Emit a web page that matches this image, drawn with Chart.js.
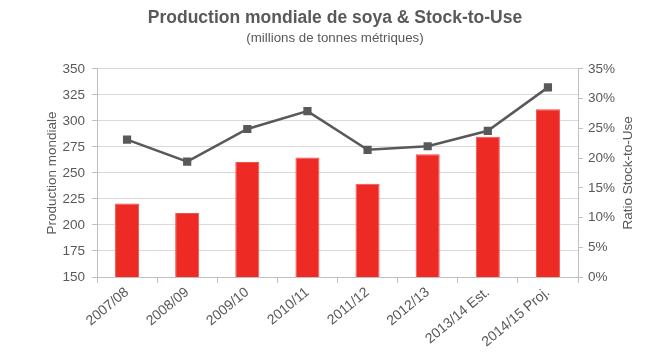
<!DOCTYPE html>
<html>
<head>
<meta charset="utf-8">
<script src="https://cdn.jsdelivr.net/npm/chart.js@4.4.0/dist/chart.umd.min.js"></script>
<style>
  html, body { margin: 0; padding: 0; background: #ffffff; }
  #wrap { width: 670px; height: 364px; position: relative; }
</style>
</head>
<body>
<div id="wrap"><canvas id="c" width="670" height="364"></canvas></div>
<script>
const categories = ["2007/08", "2008/09", "2009/10", "2010/11", "2011/12", "2012/13", "2013/14 Est.", "2014/15 Proj."];
const production = [220.7, 211.6, 260.6, 265.0, 239.6, 267.9, 284.8, 311.2];
const stockToUse = [23.1, 19.4, 24.9, 27.9, 21.4, 22.0, 24.6, 31.9];
const leftTicks = [150, 175, 200, 225, 250, 275, 300, 325, 350];
const rightTicks = [0, 5, 10, 15, 20, 25, 30, 35];

const TEXT = '#595959';
const FONT = '"Liberation Sans", Arial, sans-serif';

const rightTitlePlugin = {
  id: 'rightTitle',
  afterDraw(chart) {
    const ctx = chart.ctx;
    const area = chart.chartArea;
    ctx.save();
    ctx.translate(628, (area.top + area.bottom) / 2);
    ctx.rotate(-Math.PI / 2);
    ctx.fillStyle = TEXT;
    ctx.font = '13.5px ' + FONT;
    ctx.textAlign = 'center';
    ctx.textBaseline = 'middle';
    ctx.fillText('Ratio Stock-to-Use', 0, 0);
    ctx.restore();
  }
};

new Chart(document.getElementById('c'), {
  data: {
    labels: categories,
    datasets: [
      {
        type: 'line',
        label: 'Stock-to-Use',
        data: stockToUse,
        yAxisID: 'y1',
        borderColor: '#595959',
        borderWidth: 2.5,
        pointStyle: 'rect',
        pointRadius: 5.8,
        pointBackgroundColor: '#595959',
        pointBorderColor: '#595959',
        pointBorderWidth: 0,
        tension: 0,
        order: 1
      },
      {
        type: 'bar',
        label: 'Production mondiale',
        data: production,
        yAxisID: 'y',
        backgroundColor: '#EE2A24',
        borderColor: '#F4514B',
        borderWidth: 1,
        barPercentage: 0.4,
        categoryPercentage: 1.0,
        order: 2
      }
    ]
  },
  options: {
    responsive: false,
    animation: false,
    devicePixelRatio: 1,
    layout: { padding: { left: 0, right: 0, top: 0, bottom: 0 } },
    plugins: {
      legend: { display: false },
      tooltip: { enabled: false },
      title: {
        display: true,
        text: 'Production mondiale de soya & Stock-to-Use',
        color: TEXT,
        font: { family: FONT, size: 17.5, weight: 'bold', lineHeight: 1.2 },
        padding: { top: 8, bottom: 0 }
      },
      subtitle: {
        display: true,
        text: '(millions de tonnes métriques)',
        color: TEXT,
        font: { family: FONT, size: 13.3, lineHeight: 1.2 },
        padding: { top: 1, bottom: 23 }
      }
    },
    scales: {
      x: {
        offset: true,
        grid: { display: true, drawOnChartArea: false, offset: true, color: '#bfbfbf', tickLength: 6 },
        border: { display: true, color: '#bfbfbf' },
        ticks: { color: TEXT, font: { family: FONT, size: 14 }, minRotation: 40, maxRotation: 40, padding: 1 },
        afterFit(scale) { scale.height = 87; }
      },
      y: {
        position: 'left',
        min: 150,
        max: 350,
        afterBuildTicks(scale) { scale.ticks = leftTicks.map(v => ({ value: v })); },
        grid: { color: '#d9d9d9', tickLength: 5, tickColor: '#bfbfbf' },
        border: { display: true, color: '#bfbfbf' },
        ticks: { color: TEXT, font: { family: FONT, size: 13.5 }, padding: 7 },
        title: {
          display: true,
          text: 'Production mondiale',
          color: TEXT,
          font: { family: FONT, size: 13.5, lineHeight: 1.2 },
          padding: { top: 44, bottom: 0 }
        },
        afterFit(scale) { scale.width = 97; }
      },
      y1: {
        position: 'right',
        min: 0,
        max: 35,
        afterBuildTicks(scale) { scale.ticks = rightTicks.map(v => ({ value: v })); },
        grid: { drawOnChartArea: false, color: '#bfbfbf', tickLength: 5 },
        border: { display: true, color: '#bfbfbf' },
        ticks: { color: TEXT, font: { family: FONT, size: 13.5 }, padding: 5, callback: v => v + '%' },
        afterFit(scale) { scale.width = 92; }
      }
    }
  },
  plugins: [rightTitlePlugin]
});
</script>
</body>
</html>
